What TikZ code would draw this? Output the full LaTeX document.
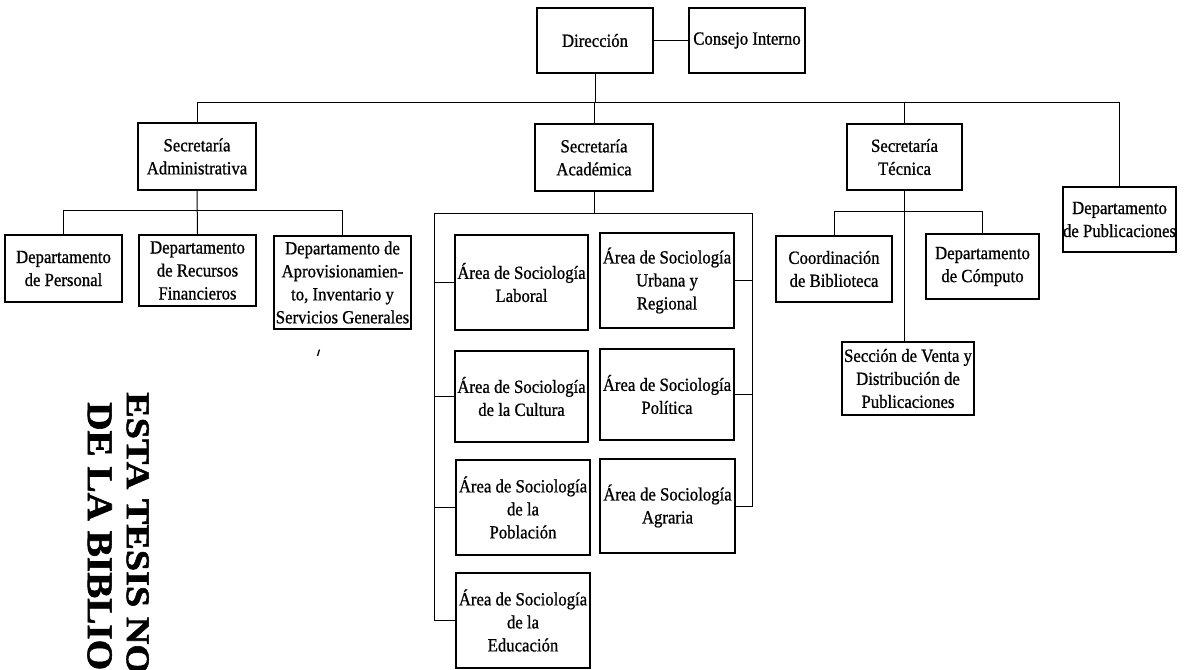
\documentclass[tikz,border=0pt]{standalone}
\usepackage{fontspec}
\setmainfont{Liberation Serif}[FakeStretch=0.9,FakeBold=0.8]
\newfontfamily\stampfont{Liberation Serif}[FakeBold=1.5]
\begin{document}
\begin{tikzpicture}[x=1pt,y=-1pt,
  box/.style={draw, line width=1.2pt, align=center, inner sep=0pt,
    font=\fontsize{18.6}{23}\selectfont},
  link/.style={line width=1pt},
  stamp/.style={rotate=-90, anchor=north west, inner sep=0pt}]
\useasboundingbox (0,0) rectangle (1185,669);
\clip (0,0) rectangle (1185,669);
\fill[white] (0,0) rectangle (1185,669);
% top
\node[box, minimum width=116pt, minimum height=65pt] (dir) at (595,40.5) {Dirección};
\node[box, minimum width=116pt, minimum height=65pt] (cons) at (747,40.5) {Consejo Interno};
% secretarias
\node[box, minimum width=118pt, minimum height=67pt] (sadm) at (197,156.5) {Secretaría\\Administrativa};
\node[box, minimum width=118pt, minimum height=67pt] (sacad) at (594,157.5) {Secretaría\\Académica};
\node[box, minimum width=115pt, minimum height=66pt] (stec) at (904.5,157) {Secretaría\\Técnica};
\node[box, minimum width=113pt, minimum height=65pt] (dpub) at (1119.5,219.5) {Departamento\\de Publicaciones};
% administrative
\node[box, minimum width=117pt, minimum height=67pt] (dper) at (63.5,268.5) {Departamento\\de Personal};
\node[box, minimum width=117pt, minimum height=71pt] (drec) at (197.5,270.5) {Departamento\\de Recursos\\Financieros};
\node[box, minimum width=137pt, minimum height=93pt] (dapr) at (342.5,282.5) {Departamento de\\Aprovisionamien-\\to, Inventario y\\Servicios Generales};
% technical
\node[box, minimum width=116pt, minimum height=66pt] (cbib) at (834,269) {Coordinación\\de Biblioteca};
\node[box, minimum width=113pt, minimum height=65pt] (dcomp) at (982.5,266.5) {Departamento\\de Cómputo};
\node[box, minimum width=132pt, minimum height=73pt] (sventa) at (908,378.5) {Sección de Venta y\\Distribución de\\Publicaciones};
% academic areas
\node[box, minimum width=133pt, minimum height=95pt] (lab) at (521.5,282.5) {Área de Sociología\\Laboral};
\node[box, minimum width=134pt, minimum height=95pt] (urb) at (667,280.5) {Área de Sociología\\Urbana y\\Regional};
\node[box, minimum width=133pt, minimum height=91pt] (cul) at (521.5,396.5) {Área de Sociología\\de la Cultura};
\node[box, minimum width=134pt, minimum height=91pt] (pol) at (667,394.5) {Área de Sociología\\Política};
\node[box, minimum width=134pt, minimum height=95pt] (pob) at (523,507.5) {Área de Sociología\\de la\\Población};
\node[box, minimum width=135pt, minimum height=94pt] (agr) at (667.5,506) {Área de Sociología\\Agraria};
\node[box, minimum width=134pt, minimum height=95pt] (edu) at (523,620.5) {Área de Sociología\\de la\\Educación};
% bus coordinates
\coordinate (bus) at (0,102);
\coordinate (ab) at (0,210);
\coordinate (tb) at (0,211);
\coordinate (gl) at (434,213);
\coordinate (gr) at (752,213);
% connectors
\draw[link] (dir.east) -- (cons.west);
\draw[link] (dir.south) -- (dir.south |- bus);
\draw[link] (sadm.north) |- (dpub.north |- bus) -- (dpub.north);
\draw[link] (sacad.north) -- (sacad.north |- bus);
\draw[link] (stec.north) -- (stec.north |- bus);
\draw[link] (sadm.south) -- (drec.north);
\draw[link] (dper.north) |- (dapr.north |- ab) -- (dapr.north);
\draw[link] (stec.south) -- (stec.south |- sventa.north);
\draw[link] (cbib.north) |- (dcomp.north |- tb) -- (dcomp.north);
\draw[link] (sacad.south) -- (sacad.south |- gl);
\draw[link] (gl) -- (gr);
\draw[link] (gl) |- (edu.west);
\draw[link] (gr) |- (agr.east);
\draw[link] (lab.west) -- (lab.west -| gl);
\draw[link] (cul.west) -- (cul.west -| gl);
\draw[link] (pob.west) -- (pob.west -| gl);
\draw[link] (urb.east) -- (urb.east -| gr);
\draw[link] (pol.east) -- (pol.east -| gr);
% speck
\draw[line width=1.3pt] (319.5,349.5) -- (317.5,356);
% stamp
\node[stamp] (st1) at (149,392) {\resizebox{282pt}{22pt}{\stampfont\bfseries ESTA TESIS NO}};
\node[stamp] (st2) at (112,402) {\resizebox{268pt}{24pt}{\stampfont\bfseries DE LA BIBLIO}};
\end{tikzpicture}
\end{document}
